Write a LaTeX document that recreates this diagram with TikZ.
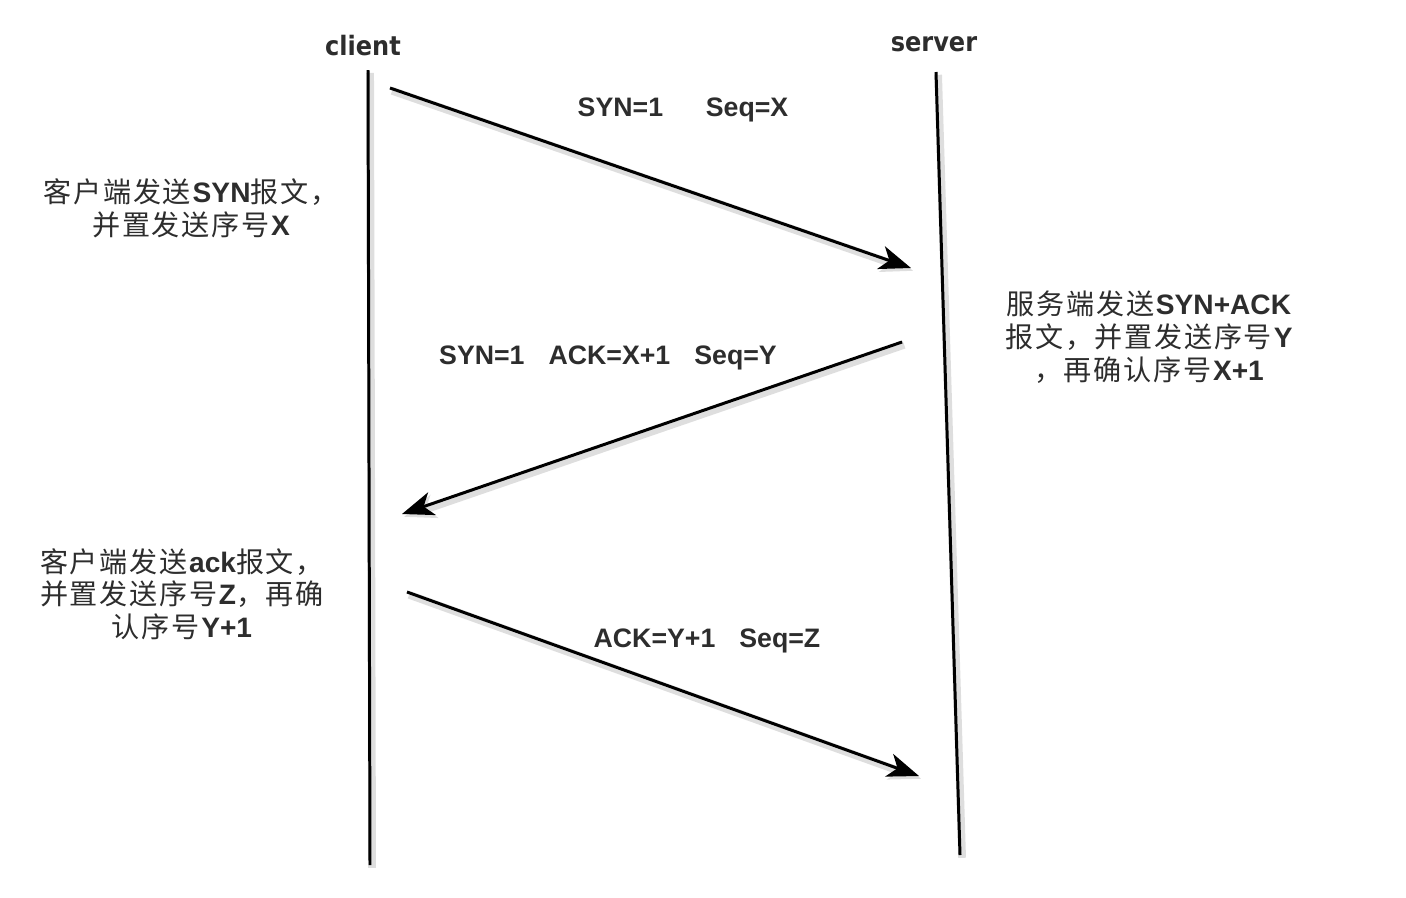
\documentclass[tikz,border=0pt]{standalone}
\usepackage{fontspec}
\setmainfont{Liberation Sans}
\newfontfamily\cjk[LetterSpace=6]{Noto Sans CJK SC}
\newfontfamily\condfont{DejaVu Sans Condensed}
\usepackage{xcolor}
\definecolor{tgray}{RGB}{45,45,45}
\definecolor{shgray}{RGB}{222,222,222}
\usepackage{tikz}
\usetikzlibrary{arrows.meta}

\begin{document}
\begin{tikzpicture}[
    every node/.style={text=tgray},
    endlabel/.style={font=\condfont\bfseries\fontsize{7.6}{9}\selectfont},
    msglabel/.style={font=\bfseries\fontsize{7.6}{9}\selectfont},
    note/.style={align=center, font=\fontsize{8}{9.3}\selectfont},
    shd/.style={preaction={draw=shgray, line width=2.2pt,
                transform canvas={shift={(0.6pt,-0.8pt)}}}},
    life/.style={shd, line width=0.85pt},
    msg/.style={shd, line width=0.85pt, -{Stealth[length=9pt, width=6.8pt, inset=2.5pt]}},
]
\useasboundingbox (0,0) rectangle (14.06,-8.97);

% ===== the two ends =====
\node[endlabel] (client) at (3.63,-0.46) {client};
\node[endlabel] (server) at (9.34,-0.44) {server};

\coordinate (ctop) at (3.68,-0.70);
\coordinate (cbot) at (3.70,-8.65);
\coordinate (stop) at (9.36,-0.72);
\coordinate (sbot) at (9.60,-8.55);

\draw[life] (ctop) -- (cbot);
\draw[life] (stop) -- (sbot);

% ===== messages =====
\coordinate (m1a) at (3.90,-0.88);
\coordinate (m1b) at (9.11,-2.68);
\coordinate (m2a) at (9.02,-3.42);
\coordinate (m2b) at (4.02,-5.14);
\coordinate (m3a) at (4.07,-5.92);
\coordinate (m3b) at (9.19,-7.76);

\draw[msg] (m1a) -- (m1b);
\draw[msg] (m2a) -- (m2b);
\draw[msg] (m3a) -- (m3b);

\node[msglabel] (syn) at (6.83,-1.10) {SYN=1\hspace{1.6em}Seq=X};
\node[msglabel] (synack) at (6.08,-3.58) {SYN=1\hspace{0.9em}ACK=X+1\hspace{0.9em}Seq=Y};
\node[msglabel] (ack) at (7.07,-6.41) {ACK=Y+1\hspace{0.9em}Seq=Z};

% ===== notes =====
\node[note] (cnote1) at (1.91,-2.08)
      {{\cjk 客户端发送}\textbf{SYN}{\cjk 报文，}\\{\cjk 并置发送序号}\textbf{X}};
\node[note] (snote) at (11.49,-3.37)
      {{\cjk 服务端发送}\textbf{SYN+ACK}\\{\cjk 报文，并置发送序号}\textbf{Y}\\{\cjk ，再确认序号}\textbf{X+1}};
\node[note] (cnote2) at (1.82,-5.94)
      {{\cjk 客户端发送}\textbf{ack}{\cjk 报文，}\\{\cjk 并置发送序号}\textbf{Z}{\cjk ，再确}\\{\cjk 认序号}\textbf{Y+1}};

\end{tikzpicture}
\end{document}
